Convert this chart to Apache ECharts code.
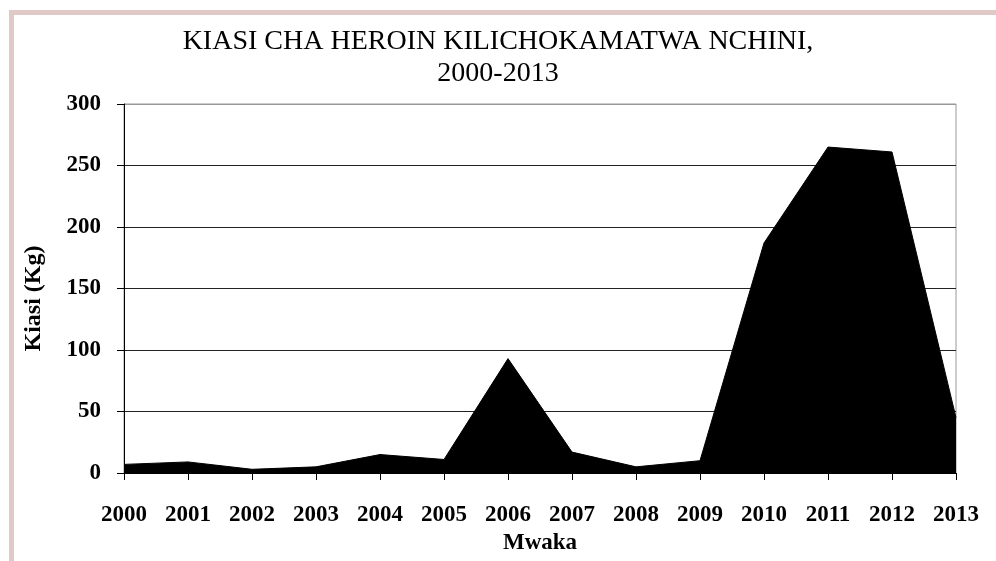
<!DOCTYPE html>
<html>
<head>
<meta charset="utf-8">
<script src="https://cdn.jsdelivr.net/npm/echarts@6/dist/echarts.min.js"></script>
<style>
  html, body { margin: 0; padding: 0; background: #fff; }
  #chart { width: 996px; height: 561px; }
</style>
</head>
<body>
<div id="chart"></div>
<script>
const years = ['2000', '2001', '2002', '2003', '2004', '2005', '2006',
               '2007', '2008', '2009', '2010', '2011', '2012', '2013'];
const kiasi = [7, 9, 3, 5, 15, 11, 93, 17, 5, 10, 187, 265, 261, 45];
const yTicks = [0, 50, 100, 150, 200, 250, 300];

const serif = '"Liberation Serif", "DejaVu Serif", serif';

const chart = echarts.init(document.getElementById('chart'));

const option = {
    animation: false,
    backgroundColor: '#fff',
    title: {
        text: 'KIASI CHA HEROIN KILICHOKAMATWA NCHINI,\n2000-2013',
        left: 'center',
        top: 21,
        textStyle: {
            fontFamily: serif,
            fontWeight: 'normal',
            fontSize: 28,
            lineHeight: 32,
            color: '#000'
        }
    },
    graphic: [
        { type: 'rect', shape: { x: 9, y: 10, width: 987, height: 5 }, style: { fill: '#e0c9c6' } },
        { type: 'rect', shape: { x: 9, y: 10, width: 5, height: 551 }, style: { fill: '#e0c9c6' } }
    ],
    grid: {
        left: 124,
        right: 40,
        top: 104,
        bottom: 88,
        show: true,
        borderColor: '#999',
        borderWidth: 1
    },
    xAxis: {
        type: 'category',
        data: years,
        boundaryGap: false,
        name: 'Mwaka',
        nameLocation: 'middle',
        nameGap: 56,
        nameTextStyle: { fontFamily: serif, fontWeight: 'bold', fontSize: 23, color: '#000' },
        axisLine: { lineStyle: { color: '#000', width: 1 } },
        axisTick: { show: true, length: 7, lineStyle: { color: '#000' } },
        axisLabel: {
            margin: 31,
            fontFamily: serif,
            fontWeight: 'bold',
            fontSize: 23,
            color: '#000'
        },
        splitLine: { show: false }
    },
    yAxis: {
        type: 'value',
        min: yTicks[0],
        max: yTicks[yTicks.length - 1],
        interval: 50,
        name: 'Kiasi (Kg)',
        nameLocation: 'middle',
        nameGap: 78,
        nameTextStyle: {
            fontFamily: serif,
            fontWeight: 'bold',
            fontSize: 24,
            color: '#000',
            padding: [0, 20, 0, 0]
        },
        axisLine: { show: true, lineStyle: { color: '#000', width: 1 } },
        axisTick: { show: true, length: 7, lineStyle: { color: '#000' } },
        axisLabel: {
            margin: 23,
            fontFamily: serif,
            fontWeight: 'bold',
            fontSize: 23,
            color: '#000'
        },
        splitLine: {
            show: true,
            lineStyle: {
                color: ['#000', '#222', '#222', '#222', '#222', '#222', '#999'],
                width: 1
            }
        }
    },
    series: [{
        name: 'Kiasi',
        type: 'line',
        data: kiasi,
        symbol: 'none',
        lineStyle: { color: '#000', width: 1 },
        areaStyle: { color: '#000', opacity: 1 }
    }]
};

chart.setOption(option);
</script>
</body>
</html>
